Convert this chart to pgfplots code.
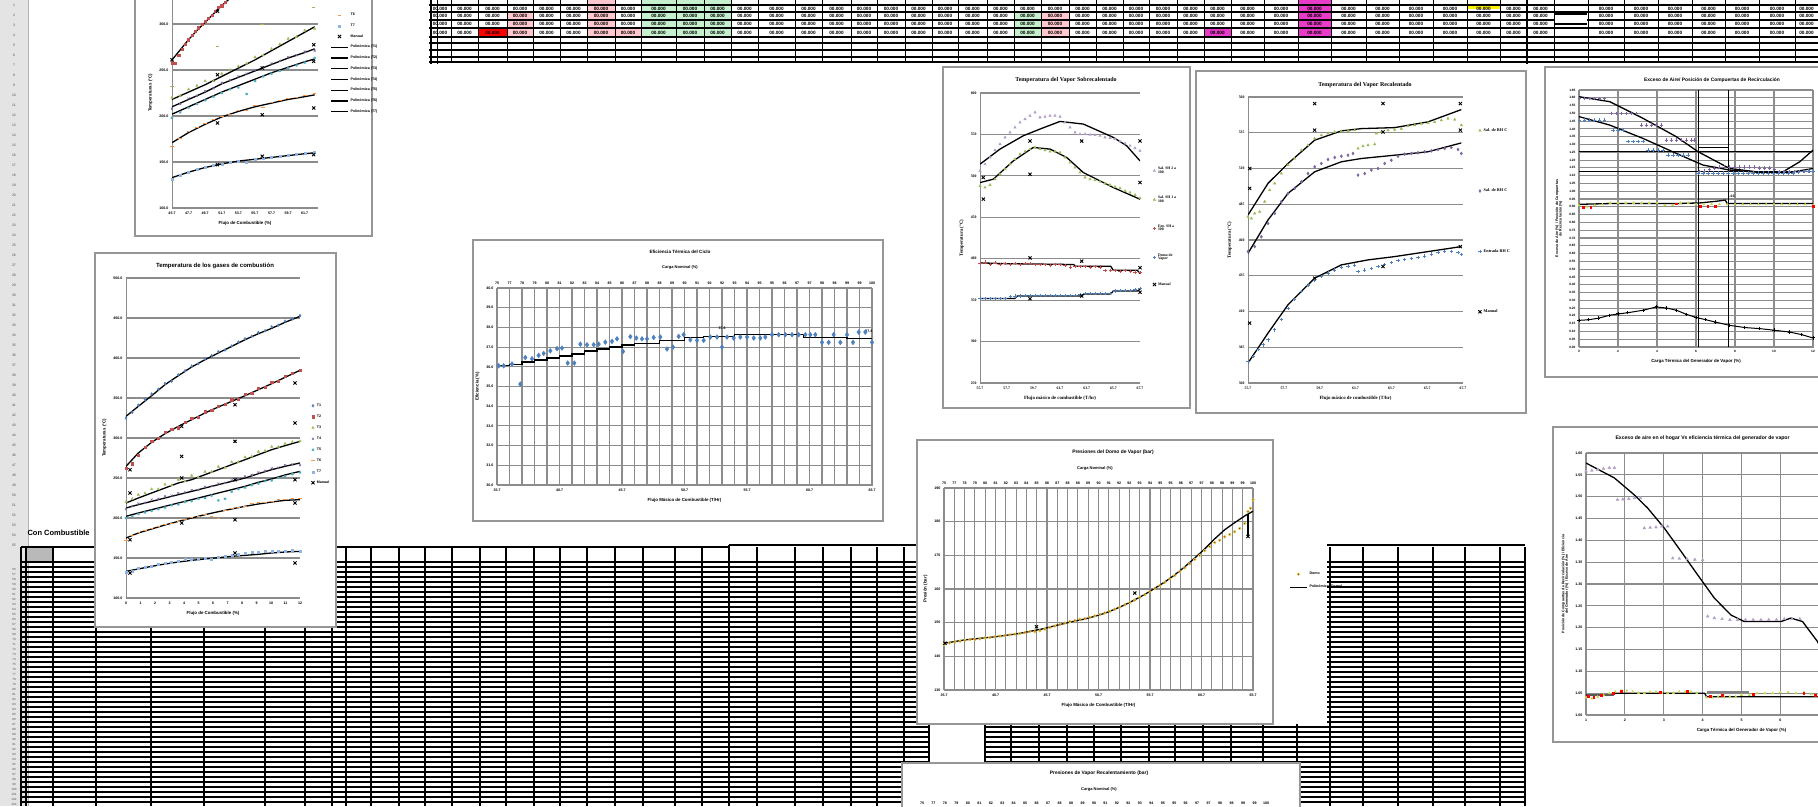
\documentclass[border=0pt]{standalone}
\usepackage{fontspec}
\setmainfont{Liberation Sans}
\newfontfamily\serifx{Liberation Serif}
\usepackage{pgfplots}
\pgfplotsset{compat=1.18}
\definecolor{xblue}{RGB}{79,129,189}
\definecolor{xred}{RGB}{192,80,77}
\definecolor{xgreen}{RGB}{155,187,89}
\definecolor{xpurple}{RGB}{128,100,162}
\definecolor{xcyan}{RGB}{75,172,198}
\definecolor{xorange}{RGB}{247,150,70}
\definecolor{xlblue}{RGB}{141,180,226}
\definecolor{lpurple}{RGB}{177,160,199}
\definecolor{gridc}{RGB}{140,140,140}
\definecolor{framec}{RGB}{150,150,150}
\definecolor{hdr}{RGB}{228,228,228}
\definecolor{ygreen}{RGB}{196,215,70}
\definecolor{lgreen}{RGB}{198,239,206}
\definecolor{lpink}{RGB}{255,199,206}
\definecolor{magent}{RGB}{232,60,200}
\newcommand{\fs}[1]{\fontsize{#1}{#1}\selectfont}
\pgfplotsset{
 xls/.style={scale only axis, anchor=south west,
   axis line style={draw=gridc, line width=1pt, -},
   major grid style={draw=gridc, line width=1.1pt},
   minor grid style={draw=gridc, line width=1.1pt},
   tick style={draw=none},
   tick label style={font=\fs{3.6}\bfseries},
   /pgf/number format/assume math mode=true,
   label style={font=\fs{4.4}\bfseries},
   legend style={draw=none, fill=none, font=\fs{3.6}\bfseries},
   legend cell align=left},
 fitl/.style={black, line width=1.3pt, mark=none},
 man/.style={only marks, mark=x, mark size=2.2pt, black, mark options={line width=0.9pt}},
 mb/.style={only marks, mark=diamond*, mark size=1.4pt, xblue},
 mr/.style={only marks, mark=square*, mark size=1.1pt, xred},
 mg/.style={only marks, mark=triangle*, mark size=1.4pt, xgreen},
 mp/.style={only marks, mark=x, mark size=1.4pt, xpurple, mark options={line width=0.6pt}},
 mc/.style={only marks, mark=asterisk, mark size=1.4pt, xcyan, mark options={line width=0.6pt}},
 mo/.style={only marks, mark=-, mark size=1.8pt, xorange, mark options={line width=1pt}},
 ml/.style={only marks, mark=-, mark size=1.8pt, xlblue, mark options={line width=1pt}},
}
\begin{document}
\begin{tikzpicture}
\useasboundingbox (0pt,0pt) rectangle (1818pt,-806pt);
\clip (0pt,0pt) rectangle (1818pt,-806pt);
% ================= spreadsheet background =================
\begin{scope}[x=1pt,y=-1pt]
\fill[white] (0,0) rectangle (1818,806);
% row header
\fill[hdr] (0,0) rectangle (28,806);
\draw[gray!60] (28,0) -- (28,806);
\foreach \yy [count=\k from 1] in {5,15,...,545} \node[font=\fs{3.4}, text=gray!60!black] at (14,\yy) {\k};
\foreach \yy [count=\k from 56] in {569.5,574.5,...,804.5} \node[font=\fs{3}, text=gray!60!black] at (14,\yy) {\k};
% top band colour cells
\fill[red] (478,29) rectangle (507,37);
\fill[lpink] (507,13) rectangle (533,37);
\fill[lpink] (587,0) rectangle (615,37);
\fill[lpink] (615,29) rectangle (641,37);
\fill[lgreen] (641,0) rectangle (731,37);
\fill[lgreen] (1014,13) rectangle (1041,37);
\fill[lpink] (1041,13) rectangle (1069,37);
\fill[magent] (1204,29) rectangle (1231,37);
\fill[magent] (1298,0) rectangle (1331,37);
\fill[yellow] (1467,4) rectangle (1500,9);
\foreach \cx in {440,464.5,492.5,520,546.5,573.5,601,628,658.5,690,717.5,744.5,776.5,808.5,836.5,864,891,918.5,945,972.5,1000.5,1027.5,1055,1082.5,1109.5,1136,1163,1190.5,1217.5,1247.5,1281,1314.5,1348.5,1382.5,1416,1450,1483.5,1513.5,1540.5,1606,1641,1675,1708.5,1742,1777,1806.5}
  \foreach \cy in {8.5,16,24,32.5}
    \node[font=\fs{4.7}\bfseries, inner sep=0pt] at (\cx,\cy) {00.000};
\foreach \y in {5,12,20,28,37,43,50,57} \draw[line width=1.1pt] (429,\y) -- (1818,\y);
\draw[line width=2.4pt] (429,62) -- (1818,62);
\foreach \x in {451,478,507,533,560,587,615,641,676,704,731,758,795,822,851,877,905,932,958,987,1014,1041,1069,1096,1123,1149,1177,1204,1231,1264,1298,1331,1366,1399,1433,1467,1500,1554,1588,1624,1658,1692,1725,1759,1795}
  \draw[line width=0.9pt] (\x,0) -- (\x,62);
\draw[line width=2.2pt] (1527,0) -- (1527,64);
\draw[line width=2.6pt] (431,0) -- (431,64);
\draw[line width=1pt] (437,0) -- (437,64);
\fill[white] (1555,13) rectangle (1587,25);
\draw[line width=2pt] (1555,14) -- (1587,14) (1555,24) -- (1587,24);
% bottom table
\fill[gray!55] (26,547) rectangle (53,562);
\draw[line width=1.5pt] (21,547) -- (729,547);
\draw[line width=2.6pt] (729,545) -- (1525,545);
\draw[line width=1.5pt] (21,562) -- (1525,562);
\foreach \y in {567,572,...,806} \draw[line width=1.8pt] (21,\y) -- (1525,\y);
\foreach \x in {21,26,53,96,151,204,265,305,332,346,371,399,425,452,480,506,534,560,587,615,643,675,702,757,795,823,851,877,904,929,985,1011,1039,1067,1094,1121,1149,1175,1203,1231,1263,1297,1330,1363,1398,1433,1465,1500,1525}
  \draw[line width=1.1pt] (\x,547) -- (\x,806);
\draw[line width=2.6pt] (729,545) -- (729,806);
\fill[white] (930,726) rectangle (984,762);
\node[anchor=west, font=\fs{7.5}\bfseries] at (24,533) {Con Combustible};
% chart frames
\filldraw[fill=white, draw=framec, line width=1.2pt] (135,-5) rectangle (372,236);
\filldraw[fill=white, draw=framec, line width=1.2pt] (95,253) rectangle (336,627);
\filldraw[fill=white, draw=framec, line width=1.2pt] (473,240) rectangle (883,521);
\filldraw[fill=white, draw=framec, line width=1.2pt] (943,67) rectangle (1190,408);
\filldraw[fill=white, draw=framec, line width=1.2pt] (1196,71) rectangle (1526,413);
\filldraw[fill=white, draw=framec, line width=1.2pt] (1545,67) rectangle (1840,377);
\fill[white] (1273,440) rectangle (1327,724);
\filldraw[fill=white, draw=framec, line width=1.2pt] (917,440) rectangle (1273,724);
\filldraw[fill=white, draw=framec, line width=1.2pt] (1553,427) rectangle (1840,742);
\filldraw[fill=white, draw=framec, line width=1.2pt] (902,763) rectangle (1300,840);
\end{scope}

% ================= Chart A (top left, cut) =================
\begin{axis}[xls, at={(172pt,-208pt)}, width=146pt, height=230pt,
 xmin=0, xmax=8.8, ymin=100, ymax=350, xtick={0,...,8}, ytick={100,150,...,300},
 xticklabels={45.7,47.7,49.7,51.7,53.7,55.7,57.7,59.7,61.7},
 yticklabel style={/pgf/number format/.cd,fixed,fixed zerofill,precision=1},
 ymajorgrids, axis x line*=bottom, axis y line*=left,
 xlabel={Flujo de Combustible (\%)}, ylabel={Temperaturas (°C)},
 legend style={at={(1.062,0.865)}, anchor=north west, row sep=2.6pt}]
\addplot[mr, forget plot] coordinates {(0,258)(0.2,257)(0.4,266)(0.6,273)(0.8,278)(1.0,283)(1.2,288)(1.4,292)(1.6,296)(1.8,300)(2.0,303)(2.2,306)(2.4,310)(2.6,314)(2.8,318)(3.0,320)(3.2,324)};
\addplot[mg, forget plot] coordinates {(0,220)(0.5,222)(1,229)(1.5,233)(2,238)(2.5,238)(3,246)(3.5,250)(4,254)(4.5,257)(5,264)(5.5,266)(6,273)(6.5,278)(7,284)(7.5,286)(8,293)(8.6,295)};
\addplot[only marks, mark=-, mark size=1.8pt, xgreen, mark options={line width=1pt}, forget plot] coordinates {(0,232.2)(2.74,275.7)(5.44,299.3)(8.54,317.4)};
\addplot[mp, forget plot] coordinates {(0,208)(0.5,213)(1,219)(1.5,222)(2,227)(2.5,230)(3,236)(3.5,239)(4,243)(4.5,246)(5,250)(5.5,253)(6,257)(6.5,260)(7,264)(7.5,266)(8,270)(8.6,271)};
\addplot[mc, forget plot] coordinates {(0,198)(0.5,204)(1,209)(1.5,213)(2,217)(2.5,221)(3,225)(3.5,229)(4,231)(4.5,224)(5,238)(5.5,243)(6,246)(6.5,249)(7,252)(7.5,255)(8,258)(8.6,263)};
\addplot[mo] coordinates {(0,167)(0.5,176)(1,183)(1.5,187)(2,192)(2.5,196)(3,199)(3.5,202)(4,206)(4.5,206)(5,211)(5.5,209)(6,215)(6.5,217)(7,219)(7.5,220)(8,222)(8.6,224)};
\addlegendentry{T6}
\addplot[only marks, mark=square*, mark size=1pt, xlblue] coordinates {(0,131)(0.5,136)(1,139)(1.5,142)(2,144)(2.5,146)(3,148)(3.5,150)(4,151)(4.5,150)(5,153)(5.5,154)(6,155)(6.5,156)(7,157)(7.5,158)(8,160)(8.6,161)};
\addlegendentry{T7}
\addplot[man] coordinates {(0,261.2)(2.74,313.8)(2.74,244.9)(2.74,192.4)(2.74,147.1)(5.44,252.2)(5.44,201.4)(5.44,156.2)(8.54,277.5)(8.54,259.4)(8.54,208.7)(8.54,158.0)};
\addlegendentry{Manual}
\addplot[fitl] coordinates {(0,327)(2,352)(4,375)(6,396)(8,414)(8.6,420)};
\addlegendentry{Polinómica (T1)}
\addplot[fitl] coordinates {(0,261)(0.5,272)(1,283)(1.5,293)(2,302)(2.5,311)(3,320)(3.5,328)};
\addlegendentry{Polinómica (T2)}
\addplot[fitl] coordinates {(0,218)(1,226)(2,234)(3,243)(4,252)(5,261)(6,271)(7,281)(8,291)(8.6,297)};
\addlegendentry{Polinómica (T3)}
\addplot[fitl] coordinates {(0,210)(1,218)(2,226)(3,235)(4,242)(5,249)(6,256)(7,263)(8,269)(8.6,273)};
\addlegendentry{Polinómica (T4)}
\addplot[fitl] coordinates {(0,202)(1,210)(2,218)(3,226)(4,233)(5,240)(6,247)(7,253)(8,259)(8.6,262)};
\addlegendentry{Polinómica (T5)}
\addplot[fitl] coordinates {(0,171)(1,182)(2,191)(3,199)(4,205)(5,210)(6,214)(7,218)(8,221)(8.6,223)};
\addlegendentry{Polinómica (T6)}
\addplot[fitl] coordinates {(0,133)(1,139)(2,144)(3,148)(4,151)(5,153)(6,155)(7,157)(8,159)(8.6,160)};
\addlegendentry{Polinómica (T7)}
\end{axis}

% ================= Chart B =================
\begin{axis}[xls, at={(126pt,-598pt)}, width=174pt, height=320pt,
 xmin=0, xmax=12, ymin=100, ymax=500, xtick={0,...,12}, ytick={100,150,...,500},
 yticklabel style={/pgf/number format/.cd,fixed,fixed zerofill,precision=1},
 ymajorgrids, axis x line*=bottom, axis y line*=left,
 xlabel={Flujo de Combustible (\%)}, ylabel={Temperaturas (°C)},
 legend style={at={(1.046,0.62)}, anchor=north west, row sep=3pt}]
\addplot[mb] coordinates {(0,325)(0.43,332)(0.85,341)(1.31,348)(1.77,355)(2.23,361)(2.69,368)(3.15,371)(3.61,379)(4.07,384)(4.53,390)(4.99,393)(5.45,399)(5.91,403)(6.37,408)(6.83,410)(7.29,415)(7.75,420)(8.21,424)(8.67,427)(9.13,432)(9.59,434)(10.05,439)(10.51,441)(10.97,446)(11.48,449)(12,453)};
\addlegendentry{T1}
\addplot[mr] coordinates {(0,262)(0.43,268)(0.85,279)(1.31,289)(1.77,296)(2.23,300)(2.69,307)(3.15,311)(3.61,313)(4.07,320)(4.53,325)(4.99,326)(5.45,333)(5.91,335)(6.37,340)(6.83,342)(7.29,348)(7.75,349)(8.21,355)(8.67,356)(9.13,362)(9.59,364)(10.05,370)(10.51,371)(10.97,377)(11.48,381)(12,385)};
\addlegendentry{T2}
\addplot[mg] coordinates {(0,220)(0.43,224)(0.85,229)(1.31,231)(1.77,236)(2.23,236)(2.69,242)(3.15,241)(3.61,248)(4.07,246)(4.53,253)(4.99,251)(5.45,258)(5.91,258)(6.37,264)(6.83,263)(7.29,270)(7.75,270)(8.21,276)(8.67,277)(9.13,283)(9.59,284)(10.05,289)(10.51,289)(10.97,293)(11.48,295)(12,296)};
\addlegendentry{T3}
\addplot[mp] coordinates {(0,211)(0.43,215)(0.85,218)(1.31,219)(1.77,223)(2.23,224)(2.69,227)(3.15,228)(3.61,231)(4.07,232)(4.53,235)(4.99,235)(5.45,239)(5.91,240)(6.37,243)(6.83,244)(7.29,247)(7.75,249)(8.21,252)(8.67,254)(9.13,257)(9.59,259)(10.05,262)(10.51,263)(10.97,266)(11.48,267)(12,266)};
\addlegendentry{T4}
\addplot[mc] coordinates {(0,200)(0.43,202)(0.85,205)(1.31,207)(1.77,209)(2.23,211)(2.69,213)(3.15,216)(3.61,217)(4.07,220)(4.53,221)(4.99,224)(5.45,225)(5.91,228)(6.37,222)(6.83,224)(7.29,233)(7.75,236)(8.21,238)(8.67,241)(9.13,243)(9.59,246)(10.05,247)(10.51,250)(10.97,252)(11.48,255)(12,257)};
\addlegendentry{T5}
\addplot[mo] coordinates {(0,172)(0.43,178)(0.85,182)(1.31,184)(1.77,187)(2.23,190)(2.69,192)(3.15,193)(3.61,196)(4.07,198)(4.53,201)(4.99,202)(5.45,205)(5.91,202)(6.37,200)(6.83,209)(7.29,212)(7.75,213)(8.21,215)(8.67,218)(9.13,219)(9.59,220)(10.05,221)(10.51,223)(10.97,223)(11.48,224)(12,224)};
\addlegendentry{T6}
\addplot[only marks, mark=square*, mark size=1pt, xlblue] coordinates {(0,132)(0.43,134)(0.85,137)(1.31,139)(1.77,140)(2.23,142)(2.69,143)(3.15,145)(3.61,146)(4.07,148)(4.53,148)(4.99,149)(5.45,150)(5.91,149)(6.37,151)(6.83,152)(7.29,153)(7.75,155)(8.21,156)(8.67,157)(9.13,157)(9.59,158)(10.05,159)(10.51,159)(10.97,159)(11.48,160)(12,159)};
\addlegendentry{T7}
\addplot[fitl, forget plot] coordinates {(0,327.1)(0.851,339.6)(1.770,352.9)(2.690,366.7)(3.609,377.9)(4.529,388.8)(5.448,397.9)(6.368,406.3)(7.287,414.6)(8.207,422.9)(9.126,430.4)(10.046,437.1)(10.966,444.6)(12,452.1)};
\addplot[fitl, forget plot] coordinates {(0,264.6)(0.851,281.3)(1.770,294.6)(2.690,305.4)(3.609,314.6)(4.529,322.9)(5.448,331.3)(6.368,338.8)(7.287,345.8)(8.207,352.9)(9.126,360.4)(10.046,367.9)(10.966,375.8)(12,384.6)};
\addplot[fitl, forget plot] coordinates {(0,218.8)(0.851,225.0)(1.770,231.3)(2.690,237.5)(3.609,243.8)(4.529,247.9)(5.448,254.2)(6.368,260.4)(7.287,266.7)(8.207,272.9)(9.126,279.2)(10.046,285.4)(10.966,290.4)(12,295.8)};
\addplot[fitl, forget plot] coordinates {(0,212.5)(0.851,216.7)(1.770,220.8)(2.690,225)(3.609,229.2)(4.529,233.3)(5.448,237.5)(6.368,241.7)(7.287,245.8)(8.207,250)(9.126,255.4)(10.046,260.4)(10.966,264.6)(12,268.8)};
\addplot[fitl, forget plot] coordinates {(0,202.1)(0.851,206.3)(1.770,210.4)(2.690,214.6)(3.609,218.8)(4.529,222.9)(5.448,227.1)(6.368,231.3)(7.287,235.4)(8.207,239.6)(9.126,244.6)(10.046,248.8)(10.966,253.8)(12,258.3)};
\addplot[fitl, forget plot] coordinates {(0,175)(0.851,181.3)(1.770,186.3)(2.690,191.3)(3.609,195.8)(4.529,200)(5.448,204.2)(6.368,207.9)(7.287,211.3)(8.207,214.6)(9.126,217.5)(10.046,220)(10.966,222.1)(12,222.9)};
\addplot[fitl, forget plot] coordinates {(0,133.3)(0.851,136.3)(1.770,139.6)(2.690,142.5)(3.609,145)(4.529,147.1)(5.448,148.8)(6.368,150.4)(7.287,152.1)(8.207,153.3)(9.126,154.6)(10.046,156.3)(10.966,157.5)(12,158.3)};
\addplot[man] coordinates {(0.276,260.4)(0.276,231.3)(0.276,172.9)(0.276,131.3)(3.84,314.6)(3.84,277.1)(3.84,250)(3.84,193.8)(7.517,341.7)(7.517,295.8)(7.517,247.9)(7.517,197.9)(7.517,156.3)(11.655,368.8)(11.655,318.8)(11.655,247.9)(11.655,218.8)(11.655,143.8)};
\addlegendentry{Manual}
\end{axis}

% ================= Chart C =================
\begin{axis}[xls, at={(497pt,-485pt)}, width=375pt, height=197pt,
 xmin=0, xmax=6, ymin=30, ymax=40, xtick={0,...,6}, ytick={30,...,40},
 xticklabels={35.7,40.7,45.7,50.7,55.7,60.7,65.7},
 yticklabel style={/pgf/number format/.cd,fixed,fixed zerofill,precision=1},
 minor x tick num=4, xmajorgrids, xminorgrids, ymajorgrids,
 xlabel={Flujo Másico de Combustible (T/Hr)}, ylabel={Eficiencia (\%)}]
\addplot[only marks, mark=diamond*, mark size=2.4pt, xblue] coordinates {(0.027,36.05)(0.107,36.05)(0.24,36.14)(0.373,35.12)(0.453,36.47)(0.56,36.41)(0.667,36.58)(0.747,36.68)(0.853,36.81)(0.96,36.92)(1.04,36.95)(1.131,36.19)(1.237,36.19)(1.333,37.15)(1.44,37.12)(1.547,37.12)(1.627,37.15)(1.733,37.25)(1.84,37.29)(1.92,37.42)(2.016,36.78)(2.133,37.53)(2.229,37.46)(2.32,37.42)(2.4,37.42)(2.507,37.49)(2.613,37.51)(2.72,36.90)(2.816,37.0)(2.907,37.54)(2.987,37.63)(3.093,37.37)(3.2,37.34)(3.307,37.34)(3.413,37.51)(3.52,37.51)(3.6,37.0)(3.68,37.51)(3.787,37.46)(3.893,37.51)(4.0,37.51)(4.107,37.46)(4.213,37.46)(4.293,37.51)(4.4,37.63)(4.507,37.63)(4.613,37.63)(4.72,37.63)(4.827,37.63)(4.933,37.63)(5.013,37.63)(5.093,37.63)(5.2,37.24)(5.307,37.24)(5.387,37.63)(5.493,37.24)(5.6,37.63)(5.696,37.24)(5.787,37.76)(5.893,37.76)(6.0,37.24)};
\addplot[fitl, const plot] coordinates {(0,36.05)(0.2,36.12)(0.4,36.25)(0.6,36.35)(0.8,36.45)(1.0,36.55)(1.2,36.65)(1.4,36.8)(1.6,36.9)(1.8,37.0)(2.0,37.1)(2.2,37.2)(2.6,37.35)(3.0,37.5)(3.3,37.55)(3.8,37.63)(4.9,37.5)(5.6,37.42)(6.0,37.42)};
\node[font=\fs{3.6}\bfseries, anchor=south] at (axis cs:3.6,37.7) {37.6};
\node[font=\fs{3.6}\bfseries, anchor=south] at (axis cs:5.95,37.55) {37.4};
\end{axis}
\begin{axis}[xls, at={(497pt,-485pt)}, width=375pt, height=197pt,
 xmin=0, xmax=30, ymin=0, ymax=1, xtick={0,...,30},
 xticklabels={75,77,78,79,80,81,82,83,84,85,86,87,88,88,89,90,91,92,92,93,94,95,95,96,97,97,98,98,99,99,100},
 axis x line*=top, hide y axis]
\addplot[draw=none] coordinates {(0,0)};
\end{axis}

% ================= Chart D =================
\begin{axis}[xls, at={(980pt,-383pt)}, width=160pt, height=290pt,
 xmin=0, xmax=6, ymin=250, ymax=600, xtick={0,...,6}, ytick={250,300,...,600},
 xticklabels={55.7,57.7,59.7,61.7,63.7,65.7,67.7},
 ymajorgrids, axis x line*=bottom, axis y line*=left,
 tick label style={font=\serifx\fs{3.8}\bfseries},
 label style={font=\serifx\fs{4.8}\bfseries},
 legend style={font=\serifx\fs{3.8}\bfseries, at={(1.06,0.76)}, anchor=north west, row sep=17pt, cells={align=left}},
 xlabel={Flujo másico de combustible (T/hr)}, ylabel={Temperatura (°C)}]
\addplot[only marks, mark=triangle*, mark size=1.4pt, lpurple] coordinates {(0,506.0)(0.1875,514.1)(0.375,522.2)(0.5625,531.0)(0.75,538.3)(0.9375,546.4)(1.125,552.4)(1.3125,558.5)(1.5,564.5)(1.6875,568.5)(1.875,572.6)(2.0625,576.6)(2.25,570.6)(2.4375,571.4)(2.625,572.6)(2.8125,572.6)(3.0,571.4)(3.1875,564.5)(3.375,558.5)(3.5625,552.4)(3.75,550.4)(3.9375,550.4)(4.125,549.6)(4.3125,549.2)(4.5,548.4)(4.6875,546.4)(4.875,545.6)(5.0625,544.4)(5.25,541.5)(5.4375,539.1)(5.625,536.3)(5.8125,533.5)(6.0,530.2)};
\addlegendentry{Sal. SH 2 a\\100}
\addplot[mg] coordinates {(0,487.9)(0.1875,485.9)(0.375,489.1)(0.5625,496.0)(0.75,502.0)(0.9375,508.1)(1.125,514.1)(1.3125,520.2)(1.5,526.2)(1.6875,529.4)(1.875,532.3)(2.0625,534.3)(2.25,532.3)(2.4375,531.0)(2.625,529.4)(2.8125,529.4)(3.0,528.2)(3.1875,522.2)(3.375,516.1)(3.5625,510.1)(3.75,504.0)(3.9375,498.0)(4.125,496.0)(4.3125,494.8)(4.5,493.1)(4.6875,490.7)(4.875,489.1)(5.0625,486.7)(5.25,485.1)(5.4375,481.9)(5.625,479.8)(5.8125,477.0)(6.0,473.0)};
\addlegendentry{Sal. SH 1 a\\100}
\addplot[only marks, mark=+, mark size=1.6pt, xred, mark options={line width=0.7pt}] coordinates {(0,394.4)(0.19,396)(0.38,393)(0.56,395)(0.75,393)(0.94,394)(1.13,393)(1.31,394)(1.5,393)(1.69,394)(1.88,394)(2.06,393)(2.25,393)(2.44,393)(2.63,392)(2.81,393)(3.0,393)(3.19,392)(3.38,390)(3.56,391)(3.75,391)(3.94,391)(4.13,390)(4.31,391)(4.5,390)(4.69,386)(4.88,386)(5.06,386)(5.25,385)(5.44,386)(5.63,385)(5.81,384)(6.0,383)};
\addlegendentry{Ent. SH a\\100}
\addplot[only marks, mark=+, mark size=1.6pt, xblue, mark options={line width=0.7pt}] coordinates {(0,352)(0.19,352)(0.38,352)(0.56,352)(0.75,352)(0.94,352)(1.13,354)(1.31,355)(1.5,355)(1.69,356)(1.88,356)(2.06,356)(2.25,356)(2.44,356)(2.63,356)(2.81,356)(3.0,356)(3.19,356)(3.38,356)(3.56,356)(3.75,357)(3.94,358)(4.13,358)(4.31,358)(4.5,358)(4.69,358)(4.88,358)(5.06,361)(5.25,362)(5.44,362)(5.63,362)(5.81,363)(6.0,364)};
\addlegendentry{Domo de\\Vapor}
\addplot[fitl, forget plot] coordinates {(0,514.1)(0.75,532.3)(1.625,548.4)(2.25,556.5)(3.0,565.7)(3.875,562.5)(5.0,546.4)(5.5,536.3)(6.0,518.1)};
\addplot[fitl, forget plot] coordinates {(0,491.9)(0.5,496.0)(1.25,518.1)(2.0,534.3)(2.625,532.3)(3.25,522.2)(3.875,504.0)(5.0,485.9)(6.0,471.8)};
\addplot[fitl, forget plot] coordinates {(0,395)(1.0,394)(3.5,393)(3.6,391)(4.9,391)(5.0,386)(5.9,386)(6.0,382)};
\addplot[fitl, forget plot] coordinates {(0,352)(1.3,352)(1.4,355)(3.8,355)(3.9,357.5)(4.9,357.5)(5.0,361)(5.9,361)(6.0,363)};
\addplot[man] coordinates {(0.125,498)(0.125,472)(1.875,542)(1.875,502)(1.875,401)(1.875,351.6)(3.8125,542)(3.8125,397)(3.8125,355)(6,542)(6,492)(6,389)(6,359.5)};
\addlegendentry{Manual}
\end{axis}

% ================= Chart E =================
\begin{axis}[xls, at={(1248pt,-383pt)}, width=215pt, height=286pt,
 xmin=0, xmax=6, ymin=360, ymax=560, xtick={0,...,6}, ytick={360,385,...,560},
 xticklabels={55.7,57.7,59.7,61.7,63.7,65.7,67.7},
 ymajorgrids, axis x line*=bottom, axis y line*=left,
 tick label style={font=\serifx\fs{3.8}\bfseries},
 label style={font=\serifx\fs{4.8}\bfseries},
 legend style={font=\serifx\fs{4.2}\bfseries, at={(1.056,0.905)}, anchor=north west, row sep=52pt},
 xlabel={Flujo másico de combustible (T/hr)}, ylabel={Temperatura (°C)}]
\addplot[mg] coordinates {(0,476.3)(0.093,475.1)(0.186,478.6)(0.326,479.8)(0.465,486.8)(0.605,494.9)(0.744,499.6)(0.93,506.5)(1.116,512.4)(1.302,517.0)(1.488,522.8)(1.674,526.3)(1.86,531.0)(2.047,533.3)(2.233,534.5)(2.419,535.6)(2.605,536.1)(2.791,536.3)(2.977,536.8)(3.07,524.0)(3.209,525.6)(3.349,526.3)(3.535,527.0)(3.581,534.5)(3.721,535.6)(3.907,536.8)(4.093,537.2)(4.279,537.9)(4.465,539.6)(4.651,540.3)(4.837,541.4)(5.023,541.9)(5.209,542.6)(5.395,543.8)(5.581,544.9)(5.767,544.2)(5.953,540.3)};
\addlegendentry{Sal. de RH C}
\addplot[only marks, mark=diamond*, mark size=1.5pt, xpurple] coordinates {(0,451.9)(0.186,455.4)(0.372,462.3)(0.558,471.6)(0.744,478.6)(0.93,486.8)(1.116,492.6)(1.302,496.1)(1.488,500.7)(1.674,506.5)(1.86,511.2)(2.047,513.5)(2.233,516.3)(2.419,517.7)(2.605,518.6)(2.791,519.3)(2.93,520.5)(3.07,505.4)(3.256,506.5)(3.442,508.9)(3.628,510.0)(3.814,513.5)(4.0,515.8)(4.186,518.6)(4.372,520.0)(4.558,520.5)(4.744,521.0)(4.93,521.7)(5.116,522.3)(5.302,523.3)(5.488,524.0)(5.674,524.7)(5.86,523.3)(5.953,520.5)};
\addlegendentry{Sal. de RH C}
\addplot[only marks, mark=+, mark size=1.7pt, xblue, mark options={line width=0.7pt}] coordinates {(0,375.1)(0.14,378.6)(0.279,383.3)(0.419,386.7)(0.558,390.2)(0.744,397.2)(0.93,404.2)(1.116,412.3)(1.302,418.2)(1.488,424.0)(1.674,428.6)(1.86,432.1)(2.047,434.4)(2.233,436.8)(2.419,439.1)(2.605,440.9)(2.791,441.9)(2.977,442.6)(3.07,437.9)(3.256,439.1)(3.442,440.2)(3.628,441.4)(3.814,443.0)(4.0,444.2)(4.186,445.6)(4.372,446.5)(4.558,447.2)(4.744,447.9)(4.93,448.9)(5.116,450.2)(5.302,451.2)(5.488,451.9)(5.674,451.9)(5.86,451.2)(5.953,450.0)};
\addlegendentry{Entrada RH C}
\addplot[fitl, forget plot] coordinates {(0,477.5)(0.558,499.6)(1.116,513.5)(1.86,529.8)(2.605,536.3)(3.163,537.9)(4.093,538.6)(5.023,542.6)(5.953,551.2)};
\addplot[fitl, forget plot] coordinates {(0,450.7)(0.558,474.0)(1.116,492.6)(1.86,507.7)(2.605,514.7)(3.163,517.0)(4.093,519.3)(5.023,521.7)(5.953,527.9)};
\addplot[fitl, forget plot] coordinates {(0,374.0)(0.558,394.9)(1.116,414.7)(1.86,433.3)(2.605,442.6)(3.349,446.1)(4.093,448.4)(5.023,451.9)(5.953,455.4)};
\addplot[man] coordinates {(0.047,496.1)(0.047,510.0)(0.047,401.9)(1.86,555.4)(1.86,536.8)(1.86,433.3)(3.767,555.4)(3.767,535.6)(3.767,441.4)(5.926,555.4)(5.926,536.8)(5.926,455.4)};
\addlegendentry{Manual}
\end{axis}

% ================= Chart F =================
\begin{axis}[xls, at={(1579pt,-347pt)}, width=234pt, height=257pt,
 xmin=0, xmax=12, ymin=0, ymax=1.65, xtick={0,2,...,12}, ytick distance=0.05,
 yticklabel style={/pgf/number format/.cd,fixed,fixed zerofill,precision=2},
 tick label style={font=\fs{3.2}\bfseries},
 xmajorgrids, ymajorgrids,
 xlabel={Carga Térmica del Generador de Vapor (\%)},
 ylabel={Exceso de Aire (\%) / Posición de Compuertas\\ de Recirculación (\%)}, ylabel style={align=center, font=\fs{3.6}\bfseries}]
\addplot[only marks, mark=+, mark size=1.7pt, xpurple, mark options={line width=0.7pt}] coordinates {(0.034,1.597)(0.29,1.597)(0.547,1.597)(0.803,1.597)(1.06,1.597)(1.316,1.597)(1.658,1.50)(1.915,1.50)(2.171,1.50)(2.427,1.50)(2.684,1.50)(2.94,1.50)(3.197,1.425)(3.453,1.425)(3.709,1.425)(3.966,1.425)(4.222,1.425)(4.479,1.329)(4.735,1.329)(4.991,1.329)(5.248,1.329)(5.504,1.329)(5.761,1.329)(5.932,1.329)(6.188,1.125)(6.444,1.13)(6.701,1.14)(6.957,1.15)(7.214,1.155)(7.47,1.155)(7.726,1.155)(7.983,1.155)(8.239,1.155)(8.496,1.155)(8.752,1.155)(9.009,1.155)(9.265,1.15)(9.521,1.15)(9.778,1.15)(10.034,1.14)(10.291,1.125)(10.547,1.125)(10.803,1.125)(11.06,1.125)(11.316,1.125)(11.573,1.125)(11.829,1.125)};
\addplot[only marks, mark=+, mark size=1.7pt, xblue, mark options={line width=0.7pt}] coordinates {(0.034,1.457)(0.29,1.457)(0.547,1.457)(0.803,1.457)(1.06,1.457)(1.316,1.457)(1.744,1.393)(2.0,1.393)(2.256,1.393)(2.513,1.318)(2.769,1.318)(3.026,1.318)(3.282,1.318)(3.538,1.264)(3.795,1.264)(4.051,1.264)(4.308,1.264)(4.564,1.233)(4.82,1.233)(5.077,1.233)(5.333,1.233)(5.59,1.233)(6.103,1.117)(6.36,1.117)(6.616,1.117)(6.872,1.117)(7.129,1.117)(7.385,1.117)(7.641,1.117)(7.898,1.117)(8.154,1.117)(8.41,1.117)(8.667,1.117)(8.923,1.117)(9.18,1.117)(9.436,1.117)(9.692,1.117)(9.949,1.117)(10.205,1.117)(10.462,1.117)(10.718,1.117)(10.974,1.117)(11.231,1.12)(11.487,1.125)(11.744,1.13)(12,1.13)};
\addplot[only marks, mark=triangle*, mark size=1.3pt, ygreen] coordinates {(0,0.91)(0.4,0.9)(0.8,0.91)(1.2,0.916)(1.6,0.925)(2.0,0.925)(2.4,0.925)(2.8,0.925)(3.2,0.925)(3.6,0.925)(4.0,0.925)(4.4,0.91)(4.8,0.91)(5.2,0.925)(5.6,0.925)(6.0,0.916)(6.4,0.916)(6.8,0.916)(7.2,0.916)(7.6,0.916)(8.0,0.916)(8.4,0.916)(8.8,0.916)(9.2,0.916)(9.6,0.916)(10,0.916)(10.4,0.916)(10.8,0.916)(11.2,0.916)(11.6,0.916)(12,0.91)};
\addplot[only marks, mark=square*, mark size=0.9pt, red] coordinates {(0.2,0.899)(0.6,0.899)(5.0,0.92)(6.2,0.905)(6.6,0.905)(7.0,0.905)(12,0.905)};
\addplot[fitl] coordinates {(0,1.607)(1.573,1.575)(3.282,1.468)(4.991,1.350)(6.103,1.254)(7.726,1.146)(9.094,1.125)(10.462,1.125)(11.316,1.189)(12,1.264)};
\addplot[fitl] coordinates {(0,1.479)(1.573,1.425)(3.282,1.339)(4.991,1.243)(6.359,1.168)(7.726,1.136)(9.265,1.121)(10.803,1.121)(12,1.146)};
\addplot[fitl] coordinates {(0,0.916)(1.6,0.921)(3.0,0.921)(5.0,0.921)(6.2,0.925)(7.0,0.935)(7.5,0.943)(7.6,0.921)(12,0.921)};
\addplot[black, line width=1pt, mark=+, mark size=1.7pt] coordinates {(0,0.171)(0.5,0.175)(1,0.185)(1.573,0.204)(2,0.212)(2.5,0.22)(3.282,0.236)(3.966,0.257)(4.5,0.25)(5.0,0.236)(5.5,0.21)(6.0,0.19)(6.5,0.175)(7.0,0.16)(7.726,0.139)(8.5,0.125)(9.265,0.118)(10,0.108)(10.803,0.096)(11.4,0.08)(12,0.058)};
\addplot[black, line width=1pt] coordinates {(6.103,0)(6.103,1.65)};
\addplot[black, line width=1pt] coordinates {(7.675,0)(7.675,1.65)};
\addplot[black, line width=1pt] coordinates {(0,1.258)(12,1.258)};
\addplot[black, line width=1pt] coordinates {(0,1.125)(12,1.125)};
\addplot[black, line width=1pt] coordinates {(6.103,1.279)(7.675,1.279)};
\node[font=\fs{3.4}\bfseries, anchor=south] at (axis cs:7.8,0.94) {1.03};
\end{axis}

% ================= Chart G =================
\begin{axis}[xls, at={(944pt,-690pt)}, width=309pt, height=202pt,
 xmin=0, xmax=6, ymin=130, ymax=190, xtick={0,...,6}, ytick={130,140,...,190},
 xticklabels={35.7,40.7,45.7,50.7,55.7,60.7,65.7},
 minor x tick num=4, xmajorgrids, xminorgrids, ymajorgrids,
 xlabel={Flujo Másico de Combustible (T/Hr)}, ylabel={Presión (bar)},
 legend style={at={(1.107,0.604)}, anchor=north west, row sep=5pt}]
\addplot[only marks, mark=*, mark size=1.3pt, mark options={fill=red, draw=ygreen, line width=0.6pt}] coordinates {(0,143.5)(0.107,144)(0.213,144.3)(0.31,144.5)(0.407,144.8)(0.504,145)(0.601,145)(0.698,145.2)(0.795,145.5)(0.892,145.6)(0.989,145.8)(1.086,146)(1.183,146.2)(1.28,146.4)(1.377,146.6)(1.474,146.8)(1.571,147.1)(1.668,147.4)(1.765,147.3)(1.862,147.6)(1.959,148.1)(2.056,148.6)(2.153,149.0)(2.25,149.5)(2.347,149.9)(2.444,150.3)(2.541,150.6)(2.638,151)(2.735,151.2)(2.832,151.6)(2.929,152)(3.026,152.4)(3.123,152.9)(3.22,153.4)(3.317,154)(3.414,154.6)(3.511,155.3)(3.608,156)(3.705,156.7)(3.802,157.5)(3.899,158.3)(3.996,159.2)(4.093,160.1)(4.19,161)(4.287,162)(4.384,163)(4.48,164)(4.578,165.2)(4.675,166.3)(4.772,167.5)(4.868,168.8)(4.965,170)(5.062,171.4)(5.159,172.6)(5.256,173.8)(5.353,174.5)(5.45,175.5)(5.547,176.2)(5.644,177)(5.741,178)(5.838,179.5)(5.903,183)(5.95,184)(6.0,186.5)};
\addlegendentry{Domo}
\addplot[fitl] coordinates {(0,143.9)(0.213,144.4)(0.407,144.9)(0.601,145.2)(0.795,145.5)(0.989,145.8)(1.183,146.2)(1.377,146.6)(1.571,147.1)(1.765,147.7)(1.959,148.3)(2.153,149.1)(2.347,149.8)(2.541,150.5)(2.735,151.1)(2.929,151.9)(3.123,152.8)(3.317,154.0)(3.511,155.3)(3.705,156.8)(3.899,158.4)(4.093,160.2)(4.287,162.1)(4.48,164.2)(4.675,166.6)(4.868,169.2)(5.062,171.9)(5.256,174.9)(5.45,177.6)(5.644,179.7)(5.838,181.7)(6.0,183.1)};
\addlegendentry{Polinómica (Domo)}
\addplot[fitl, forget plot] coordinates {(5.903,175.5)(5.903,182.2)};
\addplot[man, forget plot] coordinates {(0.02,143.9)(1.797,148.8)(3.705,158.8)(5.903,175.6)};
\end{axis}
\begin{axis}[xls, at={(944pt,-690pt)}, width=309pt, height=202pt,
 xmin=0, xmax=30, ymin=0, ymax=1, xtick={0,...,30},
 xticklabels={75,77,78,79,80,81,82,83,84,85,86,87,88,88,89,90,91,92,92,93,94,95,95,96,97,97,98,98,99,99,100},
 axis x line*=top, hide y axis]
\addplot[draw=none] coordinates {(0,0)};
\end{axis}

% ================= Chart H =================
\begin{axis}[xls, at={(1586pt,-715pt)}, width=311pt, height=262pt,
 xmin=1, xmax=9, ymin=1.0, ymax=1.6, xtick={1,...,9}, ytick distance=0.05,
 yticklabel style={/pgf/number format/.cd,fixed,fixed zerofill,precision=2},
 xmajorgrids, ymajorgrids,
 xlabel={Carga Térmica del Generador de Vapor (\%)},
 ylabel={Posición de Compuertas de Recirculación (\%) / Eficiencia\\ del Generador (\%) / Exceso de Aire}, ylabel style={align=center, font=\fs{3.6}\bfseries}]
\addplot[only marks, mark=triangle*, mark size=1.6pt, lpurple] coordinates {(1.0,1.558)(1.15,1.56)(1.3,1.562)(1.45,1.564)(1.6,1.566)(1.73,1.566)(1.81,1.493)(1.95,1.494)(2.1,1.495)(2.25,1.497)(2.4,1.497)(2.5,1.428)(2.65,1.429)(2.8,1.43)(2.95,1.432)(3.1,1.432)(3.23,1.359)(3.4,1.358)(3.6,1.357)(3.8,1.356)(4.0,1.355)(4.13,1.226)(4.3,1.222)(4.5,1.22)(4.7,1.218)(4.9,1.218)(5.1,1.218)(5.3,1.218)(5.5,1.218)(5.7,1.218)(5.9,1.218)(6.1,1.22)(6.3,1.22)(6.5,1.22)};
\addplot[only marks, mark=triangle*, mark size=1.3pt, ygreen] coordinates {(1.0,1.040)(1.15,1.038)(1.3,1.042)(1.45,1.046)(1.6,1.05)(1.75,1.053)(1.9,1.056)(2.05,1.056)(2.2,1.053)(2.35,1.05)(2.5,1.05)(2.65,1.053)(2.8,1.053)(2.95,1.05)(3.1,1.05)(3.25,1.05)(3.4,1.053)(3.55,1.053)(3.7,1.053)(3.85,1.05)(4.1,1.04)(4.25,1.04)(4.4,1.042)(4.55,1.042)(4.7,1.042)(4.85,1.042)(5.0,1.046)(5.2,1.046)(5.4,1.05)(5.6,1.05)(5.8,1.05)(6.0,1.052)(6.2,1.052)(6.4,1.05)(6.6,1.052)(6.8,1.048)};
\addplot[only marks, mark=square*, mark size=0.9pt, red] coordinates {(1.05,1.043)(1.2,1.041)(1.4,1.045)(1.7,1.05)(1.9,1.055)(2.9,1.053)(3.6,1.055)(4.2,1.043)(4.5,1.045)(5.3,1.047)(6.6,1.05)(6.9,1.046)};
\addplot[fitl] coordinates {(1,1.046)(1.7,1.046)(1.75,1.05)(4.05,1.05)(4.1,1.042)(5.6,1.042)(7,1.042)};
\addplot[gray, line width=1.3pt] coordinates {(4.1,1.053)(5.2,1.053)};
\addplot[fitl] coordinates {(1.0,1.577)(1.728,1.543)(2.243,1.504)(2.585,1.474)(3.014,1.428)(3.442,1.375)(3.871,1.321)(4.299,1.268)(4.728,1.229)(5.07,1.214)(6.013,1.214)(6.27,1.222)(6.57,1.214)(6.956,1.168)(7.3,1.10)(7.6,1.05)};
\end{axis}

% ================= Chart I (bottom, cut) =================
\begin{axis}[xls, anchor=north west, at={(922pt,-808pt)}, width=344pt, height=120pt,
 xmin=0, xmax=30, ymin=0, ymax=1, xtick={0,...,30},
 xticklabels={75,77,78,79,80,81,82,83,84,85,86,87,88,88,89,90,91,92,92,93,94,95,95,96,97,97,98,98,99,99,100},
 axis x line*=top, hide y axis]
\addplot[draw=none] coordinates {(0,0)};
\end{axis}

% ================= titles =================
\begin{scope}[x=1pt,y=-1pt]
\node[font=\fs{6}\bfseries] at (215,266) {Temperatura de los gases de combustión};
\node[font=\fs{4.6}\bfseries] at (680,252) {Eficiencia Térmica del Ciclo};
\node[font=\fs{4}\bfseries] at (680,267) {Carga Nominal (\%)};
\node[font=\serifx\fs{6}\bfseries] at (1066,80) {Temperatura del Vapor Sobrecalentado};
\node[font=\serifx\fs{6}\bfseries] at (1365,85) {Temperatura del Vapor Recalentado};
\node[font=\fs{4.9}\bfseries] at (1712,80) {Exceso de Aire/ Posición de Compuertas de Recirculación};
\node[font=\fs{4.9}\bfseries] at (1113,452) {Presiones del Domo de Vapor (bar)};
\node[font=\fs{4}\bfseries] at (1095,468) {Carga Nominal (\%)};
\node[font=\fs{5.1}\bfseries, anchor=west] at (1612,438) {Exceso de aire en el hogar Vs eficiencia térmica del generador de vapor};
\node[font=\fs{4.9}\bfseries] at (1099,773) {Presiones de Vapor Recalentamiento (bar)};
\node[font=\fs{4}\bfseries] at (1099,789) {Carga Nominal (\%)};
\end{scope}
\end{tikzpicture}
\end{document}
